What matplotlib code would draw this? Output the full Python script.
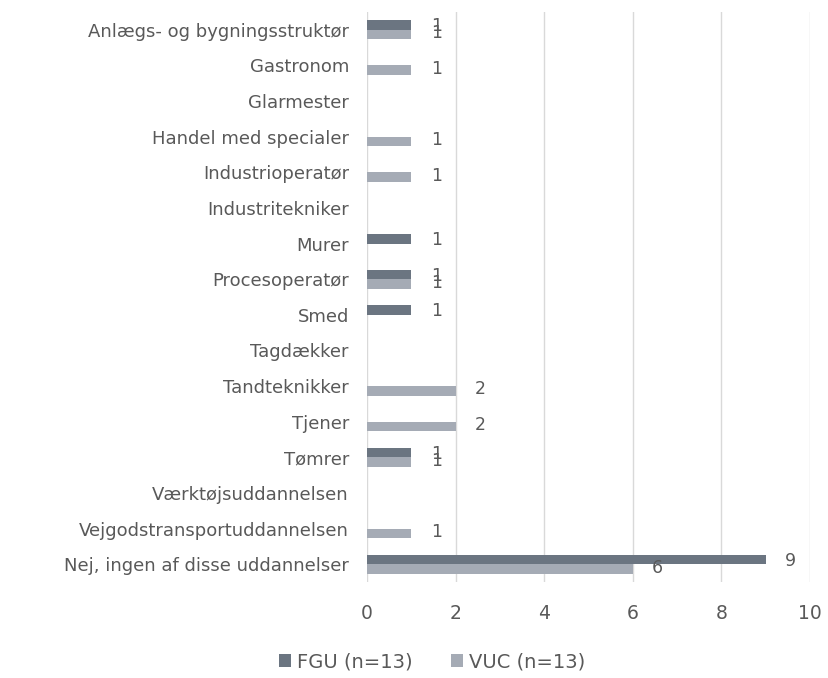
import numpy as np
import matplotlib
matplotlib.use('Agg')
import matplotlib.pyplot as plt

categories = [
    'Anlægs- og bygningsstruktør', 'Gastronom', 'Glarmester',
    'Handel med specialer', 'Industrioperatør', 'Industritekniker',
    'Murer', 'Procesoperatør', 'Smed', 'Tagdækker', 'Tandteknikker',
    'Tjener', 'Tømrer', 'Værktøjsuddannelsen', 'Vejgodstransportuddannelsen',
    'Nej, ingen af disse uddannelser',
]
fgu = [1, 0, 0, 0, 0, 0, 1, 1, 1, 0, 0, 0, 1, 0, 0, 9]
vuc = [1, 1, 0, 1, 1, 0, 0, 1, 0, 0, 2, 2, 1, 0, 1, 6]
series = [('FGU (n=13)', fgu, '#6b7581'), ('VUC (n=13)', vuc, '#a5abb5')]

text_col = '#595959'
plt.rcParams['font.family'] = 'DejaVu Sans'

fig = plt.figure(figsize=(8.29, 6.78), dpi=100)
ax = fig.add_axes([367 / 829, 1 - 582 / 678, (810 - 367) / 829, (582 - 12) / 678])

y = np.arange(len(categories))
h = 0.267
for i, (name, vals, col) in enumerate(series):
    off = -h / 2 if i == 0 else h / 2
    vals = np.array(vals)
    bars = ax.barh(y + off, vals, height=h, color=col, label=name)
    for b, v in zip(bars, vals):
        if v > 0:
            ax.annotate(str(v), (v, b.get_y() + b.get_height() / 2),
                        xytext=(14, -1 if i == 0 else 1), textcoords='offset points',
                        ha='left', va='center', fontsize=12.5, color=text_col)

ax.set_xlim(0, 10)
ax.set_ylim(len(categories) - 0.5, -0.5)
ax.set_xticks(range(0, 11, 2))
ax.set_yticks(y)
ax.set_yticklabels(categories)
ax.grid(axis='x', color='#d9d9d9', linewidth=1)
ax.set_axisbelow(True)
for s in ax.spines.values():
    s.set_visible(False)
ax.tick_params(axis='both', length=0, colors=text_col, labelsize=13)
ax.tick_params(axis='x', pad=16, labelsize=13.5)
ax.tick_params(axis='y', pad=13)

fig.legend(*ax.get_legend_handles_labels(), loc='center', bbox_to_anchor=(432 / 829, 1 - 662 / 678),
           ncol=2, frameon=False, fontsize=14, labelcolor=text_col,
           handlelength=0.6, handleheight=0.6, handletextpad=0.3, columnspacing=2.0)

plt.savefig('out.png', dpi=100)
